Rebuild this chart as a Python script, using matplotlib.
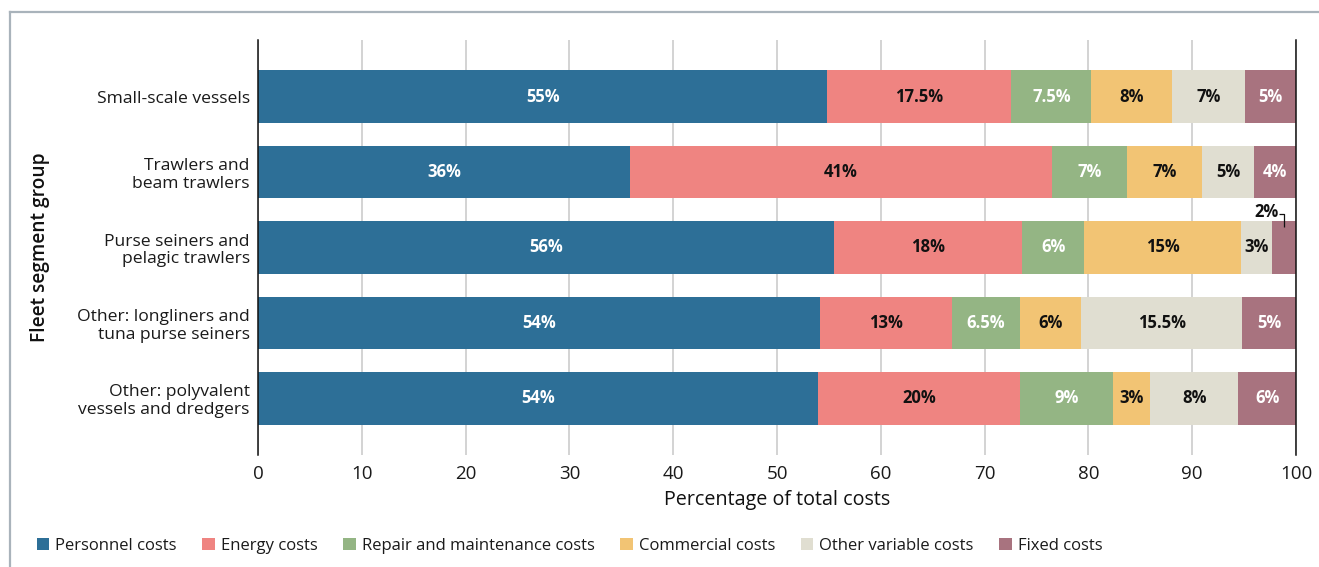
import matplotlib
matplotlib.use("Agg")
import matplotlib.pyplot as plt
from matplotlib.patches import Patch
from matplotlib.lines import Line2D
import numpy as np

plt.rcParams['font.family'] = ['Open Sans', 'DejaVu Sans']

categories = ["Small-scale vessels", "Trawlers and\nbeam trawlers",
              "Purse seiners and\npelagic trawlers",
              "Other: longliners and\ntuna purse seiners",
              "Other: polyvalent\nvessels and dredgers"]
series_names = ["Personnel costs", "Energy costs", "Repair and maintenance costs",
                "Commercial costs", "Other variable costs", "Fixed costs"]
colors = ["#2d6f97", "#ef8481", "#94b584", "#f2c474", "#e0ded1", "#a8737f"]
text_colors = ["white", "#111111", "white", "#111111", "#111111", "white"]

personnel = [54.83, 35.84, 55.50, 54.15, 53.96]
energy = [17.76, 40.67, 18.12, 12.72, 19.47]
repair = [7.68, 7.23, 5.98, 6.56, 8.96]
commercial = [7.81, 7.23, 15.13, 5.88, 3.57]
other_var = [7.03, 5.01, 2.98, 15.51, 8.48]
fixed = [4.89, 4.02, 2.29, 5.18, 5.56]

personnel_lbl = ["55%", "36%", "56%", "54%", "54%"]
energy_lbl = ["17.5%", "41%", "18%", "13%", "20%"]
repair_lbl = ["7.5%", "7%", "6%", "6.5%", "9%"]
commercial_lbl = ["8%", "7%", "15%", "6%", "3%"]
other_var_lbl = ["7%", "5%", "3%", "15.5%", "8%"]
fixed_lbl = ["5%", "4%", "2%", "5%", "6%"]

xticks = [0, 10, 20, 30, 40, 50, 60, 70, 80, 90, 100]

series = [personnel, energy, repair, commercial, other_var, fixed]
labels = [personnel_lbl, energy_lbl, repair_lbl, commercial_lbl, other_var_lbl, fixed_lbl]

W, H = 1319, 567
fig = plt.figure(figsize=(W / 100, H / 100), dpi=100)
ax = fig.add_axes([258 / W, 1 - 455 / H, (1296 - 258) / W, (455 - 40) / H])

y = np.arange(len(categories))
bar_h = 0.70
left = np.zeros(len(categories))
for s, (vals, col, tc, lbls) in enumerate(zip(series, colors, text_colors, labels)):
    vals = np.array(vals)
    ax.barh(y, vals, left=left, height=bar_h, color=col, zorder=3)
    for i, (v, l) in enumerate(zip(vals, lbls)):
        cx = left[i] + v / 2
        if s == 5 and i == 2:
            # small segment: annotate above with a bracket
            top = y[i] - bar_h / 2
            ax.text(cx - 0.55, top - 0.12, l, ha="right", va="center",
                    fontsize=12, fontweight="bold", color="#111111", zorder=5)
            ax.plot([cx - 0.5, cx, cx], [top - 0.1, top - 0.1, top + 0.08],
                    color="#111111", lw=0.9, zorder=5, solid_capstyle="butt")
        else:
            ax.text(cx, y[i], l, ha="center", va="center", fontsize=12,
                    fontweight="bold", color=tc, zorder=5)
    left = left + vals

ax.set_xlim(0, 100)
ax.set_ylim(len(categories) - 0.25, -0.75)
ax.set_xticks(xticks)
ax.set_yticks(y)
ax.set_yticklabels(categories, fontsize=12.6, linespacing=1.15)
ax.tick_params(axis="x", length=0, pad=7, labelsize=13.5, colors="#1a1a1a")
ax.tick_params(axis="y", length=0, pad=6, colors="#1a1a1a")
ax.grid(axis="x", color="#cccccc", lw=1.2, zorder=0)
ax.set_axisbelow(True)
for side in ["top", "bottom"]:
    ax.spines[side].set_visible(False)
for side in ["left", "right"]:
    ax.spines[side].set_color("#111111")
    ax.spines[side].set_linewidth(1.1)
    ax.spines[side].set_zorder(4)

ax.set_xlabel("Percentage of total costs", fontsize=14.2, fontweight="medium",
              color="#111111", labelpad=5)
fig.text(40 / W, 1 - 247 / H, "Fleet segment group", rotation=90, ha="center",
         va="center", fontsize=13.8, fontweight="semibold", color="#111111")

handles = [Patch(facecolor=c, edgecolor="none") for c in colors]
leg = fig.legend(handles, series_names, loc="center left",
                 bbox_to_anchor=(30 / W, 1 - 546 / H), ncol=6, frameon=False,
                 fontsize=12, handlelength=0.75, handleheight=0.75,
                 handletextpad=0.35, columnspacing=1.55, borderaxespad=0)
for t in leg.get_texts():
    t.set_color("#1a1a1a")

frame_col = "#a9b3bb"
fig.add_artist(Line2D([9.5 / W, 1], [1 - 12 / H, 1 - 12 / H], color=frame_col, lw=1.6,
                      transform=fig.transFigure))
fig.add_artist(Line2D([9.5 / W, 9.5 / W], [0, 1 - 12 / H], color=frame_col, lw=1.6,
                      transform=fig.transFigure))

fig.savefig("out.png", dpi=100)
